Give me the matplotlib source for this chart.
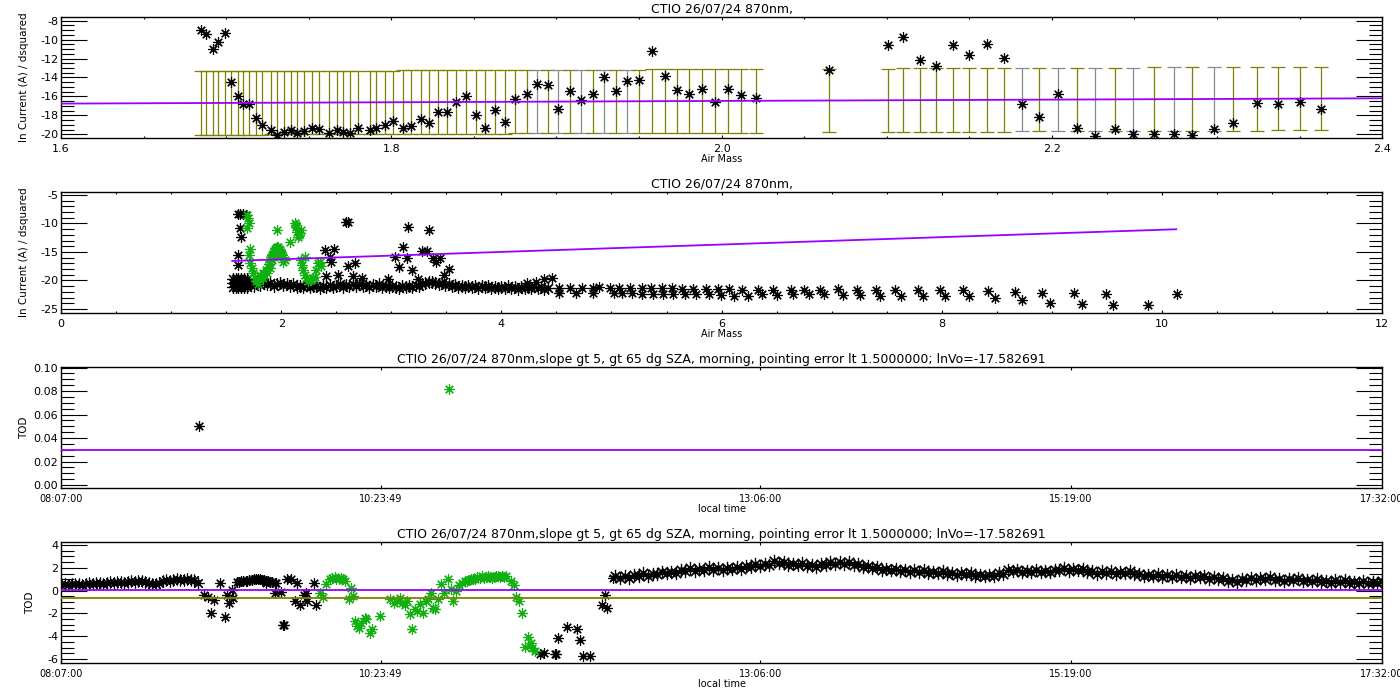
import matplotlib
matplotlib.use('Agg')
import matplotlib.pyplot as plt
from matplotlib.ticker import MultipleLocator, FixedLocator, FormatStrFormatter

plt.rcParams['font.family'] = ['DejaVu Sans']
plt.rcParams['axes.unicode_minus'] = False

#Titles and labels
title_short = "CTIO 26/07/24 870nm,"
title_long = ("CTIO 26/07/24 870nm,slope gt 5, gt 65 dg SZA, morning, "
              "pointing error lt 1.5000000; lnVo=-17.582691")
ylab_ln = "ln Current (A) / dsquared"

#PANEL 1 : morning points used for the Langley fit
p1_am = [1.685, 1.688, 1.692, 1.695, 1.699, 1.703, 1.707, 1.710, 1.714, 1.718,
         1.722, 1.727, 1.731, 1.735, 1.739, 1.743, 1.747, 1.752, 1.756, 1.762,
         1.767, 1.771, 1.775, 1.780, 1.787, 1.791, 1.796, 1.801, 1.807, 1.812,
         1.818, 1.823, 1.828, 1.834, 1.839, 1.845, 1.851, 1.857, 1.863, 1.869,
         1.875, 1.882, 1.888, 1.895, 1.901, 1.908, 1.915, 1.922, 1.929, 1.936,
         1.943, 1.950, 1.958, 1.966, 1.973, 1.980, 1.988, 1.996, 2.004, 2.012,
         2.021, 2.065, 2.101, 2.110, 2.120, 2.130, 2.140, 2.150, 2.161, 2.171,
         2.182, 2.192, 2.204, 2.215, 2.226, 2.238, 2.249, 2.262, 2.274, 2.285,
         2.298, 2.310, 2.324, 2.337, 2.350, 2.363]
p1_ln = [-9.0, -9.4, -11.0, -10.3, -9.3, -14.5, -16.0, -16.8, -16.8, -18.3,
         -19.0, -19.6, -20.1, -19.8, -19.6, -19.9, -19.7, -19.3, -19.4, -19.9,
         -19.6, -19.8, -19.9, -19.3, -19.6, -19.3, -19.0, -18.6, -19.3, -19.1,
         -18.4, -18.8, -17.7, -17.7, -16.6, -16.0, -18.0, -19.3, -17.4, -18.7,
         -16.3, -15.7, -14.7, -14.8, -17.3, -15.4, -16.4, -15.7, -14.0, -15.4,
         -14.4, -14.3, -11.2, -13.8, -15.3, -15.7, -15.2, -16.55, -15.2, -15.8,
         -16.2, -13.2, -10.6, -9.7, -12.2, -12.8, -10.6, -11.6, -10.5, -11.9,
         -16.8, -18.2, -15.7, -19.3, -20.2, -19.4, -20.0, -20.0, -20.0, -20.1,
         -19.4, -18.8, -16.7, -16.8, -16.55, -17.3]
p1_fit = [-17.88, 0.70]      # intercept, slope
p1_halfbar = 3.35
p1_grey_bars = [1.888, 1.901, 1.915, 1.929, 1.943,
                2.182, 2.204, 2.226, 2.249, 2.274, 2.298]

#PANEL 2 : whole day
p2_noon_am = [1.56, 1.56, 1.56, 1.585, 1.585, 1.585, 1.61, 1.61, 1.61,
              1.635, 1.635, 1.635, 1.66, 1.66, 1.66, 1.685, 1.685, 1.685]
p2_noon_ln = [-19.8, -20.5, -21.2, -19.8, -20.5, -21.2, -19.8, -20.5, -21.2,
              -19.8, -20.5, -21.2, -19.8, -20.5, -21.2, -19.8, -20.5, -21.2]

p2_band_am = [1.72, 1.75, 1.78, 1.81, 1.84, 1.87, 1.90, 1.93, 1.96, 1.99,
              2.02, 2.05, 2.08, 2.11, 2.14, 2.17, 2.20, 2.23, 2.26, 2.29,
              2.32, 2.35, 2.38, 2.41, 2.44, 2.47, 2.50, 2.53, 2.56, 2.59,
              2.62, 2.65, 2.68, 2.71, 2.74, 2.77, 2.80, 2.83, 2.86, 2.89,
              2.92, 2.95, 2.98, 3.01, 3.04, 3.07, 3.10, 3.13, 3.16, 3.19,
              3.22, 3.25, 3.28, 3.31, 3.34, 3.37, 3.40, 3.43, 3.46, 3.49,
              3.52, 3.55, 3.58, 3.61, 3.64, 3.67, 3.70, 3.73, 3.76, 3.79,
              3.82, 3.85, 3.88, 3.91, 3.94, 3.97, 4.00, 4.03, 4.06, 4.09,
              4.12, 4.15, 4.18, 4.21, 4.24, 4.27, 4.30, 4.33, 4.36, 4.39,
              4.42]
p2_band_ln = [-20.4, -20.9, -20.5, -20.8, -20.4, -20.7, -20.5, -20.9, -20.6, -20.4,
              -20.8, -20.6, -21.0, -20.7, -21.2, -20.9, -21.1, -20.8, -21.2, -20.9,
              -21.0, -21.3, -20.9, -21.1, -20.8, -21.2, -21.0, -20.7, -21.1, -20.8,
              -21.0, -20.6, -20.9, -20.7, -21.0, -20.8, -21.1, -20.8, -21.0, -20.7,
              -21.1, -20.9, -21.2, -20.9, -21.1, -21.3, -21.0, -21.2, -20.9, -21.1,
              -20.8, -21.0, -20.7, -20.5, -20.3, -20.2, -20.4, -20.6, -20.5, -20.8,
              -20.7, -21.0, -20.8, -21.1, -20.9, -21.2, -20.9, -21.1, -21.0, -21.3,
              -21.0, -21.2, -20.9, -21.3, -21.1, -21.4, -21.1, -21.3, -21.0, -21.4,
              -21.2, -21.5, -21.2, -21.4, -21.1, -21.3, -21.0, -21.4, -21.2, -21.5,
              -21.3]

p2_up_am = [4.23, 4.31, 4.39, 4.46,
            4.52, 4.625, 4.73, 4.83, 4.885, 4.99, 5.07, 5.17, 5.28, 5.36,
            5.46, 5.55, 5.64, 5.74, 5.86, 5.97, 6.07, 6.19, 6.33, 6.47,
            6.63, 6.75, 6.89, 7.06, 7.23, 7.40, 7.58, 7.78, 7.98, 8.19,
            8.42, 8.67, 8.91, 9.20, 9.49, 10.14]
p2_up_ln = [-20.44, -20.28, -19.72, -19.5,
            -21.39, -21.39, -21.33, -21.27, -21.21, -21.27, -21.33, -21.39, -21.39, -21.39,
            -21.39, -21.39, -21.45, -21.50, -21.50, -21.50, -21.50, -21.62, -21.62, -21.62,
            -21.62, -21.62, -21.62, -21.50, -21.62, -21.62, -21.73, -21.73, -21.73, -21.73,
            -21.85, -22.08, -22.20, -22.20, -22.31, -22.31]

p2_low_am = [4.52, 4.68, 4.83, 5.02, 5.10, 5.19, 5.28, 5.375, 5.47, 5.56,
             5.67, 5.77, 5.885, 5.995, 6.11, 6.24, 6.37, 6.50, 6.65, 6.79,
             6.93, 7.10, 7.255, 7.44, 7.63, 7.83, 8.03, 8.245, 8.48, 8.73,
             8.98, 9.27, 9.56, 9.875]
p2_low_ln = [-22.20, -22.20, -22.20, -22.20, -22.20, -22.20, -22.31, -22.31, -22.31, -22.43,
             -22.43, -22.43, -22.43, -22.49, -22.66, -22.66, -22.43, -22.49, -22.43, -22.43,
             -22.43, -22.49, -22.60, -22.66, -22.66, -22.72, -22.66, -22.77, -23.0, -23.47,
             -23.87, -24.16, -24.34, -24.28]

p2_out_am = [1.612, 1.63, 1.65, 1.68, 1.63, 1.636, 1.606, 1.612, 2.40, 2.48,
             2.44, 2.45, 2.41, 2.52, 2.59, 2.61, 2.61, 2.67, 2.65, 2.73,
             2.97, 3.03, 3.07, 3.11, 3.14, 3.15, 3.19, 3.24, 3.28, 3.32,
             3.34, 3.38, 3.41, 3.44, 3.48, 3.52]
p2_out_ln = [-8.33, -8.33, -8.33, -8.5, -10.85, -12.4, -15.5, -17.3, -14.65, -14.5,
             -15.8, -16.7, -19.2, -19.0, -9.7, -9.7, -17.5, -17.0, -19.3, -19.5,
             -19.8, -15.8, -17.6, -14.2, -16.1, -10.55, -18.2, -19.8, -14.9, -14.9,
             -11.1, -16.1, -16.7, -16.1, -19.0, -18.0]

p2_green_am = [1.685, 1.697, 1.703, 1.691, 1.712, 1.709, 1.721, 1.733, 1.742, 1.758,
               1.773, 1.788, 1.794, 1.803, 1.818, 1.833, 1.833, 1.848, 1.864, 1.873,
               1.879, 1.888, 1.894, 1.897, 1.903, 1.909, 1.915, 1.918, 1.924, 1.933,
               1.933, 1.939, 1.948, 1.955, 1.958, 1.964, 1.970, 1.979, 1.985, 1.988,
               1.994, 2.000, 2.009, 2.015, 2.015, 2.030, 1.964, 2.076, 2.121, 2.130,
               2.136, 2.145, 2.152, 2.158, 2.167, 2.176, 2.182, 2.191, 2.197, 2.212,
               2.218, 2.227, 2.242, 2.258, 2.273, 2.288, 2.303, 2.318, 2.333, 2.348,
               2.364]
p2_green_ln = [-8.5, -9.09, -9.97, -10.85, -14.53, -15.5, -16.99, -17.87, -18.63, -19.62,
               -20.03, -20.6, -19.8, -19.04, -19.44, -18.74, -19.62, -19.04, -18.16, -18.63,
               -17.69, -17.1, -16.7, -17.87, -16.17, -15.82, -16.4, -15.47, -15.35, -15.0,
               -15.82, -14.77, -14.53, -14.36, -15.12, -14.18, -14.18, -14.42, -14.65, -15.53,
               -15.0, -15.35, -15.58, -15.82, -16.7, -16.4, -11.14, -13.19, -9.85, -10.26,
               -10.56, -11.43, -12.43, -12.02, -11.73, -11.14, -16.4, -17.28, -18.16, -15.82,
               -19.04, -19.62, -20.03, -19.91, -19.91, -19.62, -19.33, -18.16, -16.99, -16.7,
               -17.46]

lnvo = -17.582691
p2_fit_am = [1.555, 10.13]
p2_fit_slope = 0.648

#PANELS 3-4 : time in minutes after 08:00 local time
time_ticks = [7, 143.8167, 306, 439, 572]
time_labels = ['08:07:00', '10:23:49', '13:06:00', '15:19:00', '17:32:00']

p3_black_t = [65.9]
p3_black_tod = [0.050]
p3_green_t = [172.8]
p3_green_tod = [0.082]
tod_mean = 0.030
tod_low = -0.65

p4_morn_t = [7, 8.5, 10, 11.5, 13, 14.5, 16, 17.5, 19, 20.5,
             22, 23.5, 25, 26.5, 28, 29.5, 31, 32.5, 34, 35.5,
             37, 38.5, 40, 41.5, 43, 44.5, 46, 47.5, 49, 50.5,
             52, 53.5, 55, 56.5, 58, 59.5, 61, 62.5, 64, 65.5]
p4_morn_tod = [0.52, 0.60, 0.50, 0.58, 0.55, 0.62, 0.52, 0.60, 0.66, 0.58,
               0.64, 0.70, 0.62, 0.68, 0.74, 0.66, 0.72, 0.78, 0.70, 0.76,
               0.82, 0.75, 0.80, 0.86, 0.78, 0.70, 0.60, 0.55, 0.68, 0.86,
               0.95, 0.88, 0.92, 0.98, 0.90, 0.96, 1.02, 0.94, 0.90, 0.70]

p4_black_t = [68.1, 69.9, 72.6, 71.3, 74.9, 77.0, 77.9, 78.8, 80.5, 80.2,
              82.3, 83.2, 84.1, 85.0, 85.9, 86.7, 87.6, 88.5, 89.4, 90.3,
              91.2, 92.1, 92.9, 93.8, 94.7, 95.6, 96.5, 97.4, 98.3, 94.7,
              98.3, 100.9, 99.1, 101.8, 102.2, 103.6, 105.3, 108.0, 107.1, 109.2,
              110.7, 111.9, 112.4, 115.1, 116.0,
              211.7, 213.4, 218.4, 218.9, 219.6,
              223.2, 227.6, 229.0, 230.3, 233.3, 238.2, 239.7, 240.4, 243.2]
p4_black_tod = [-0.41, -0.53, -0.82, -1.94, 0.71, -2.29, -0.41, -1.12, -0.68, 0.06,
                0.72, 0.78, 0.80, 0.85, 0.88, 0.86, 0.92, 0.95, 0.98, 1.0,
                1.02, 0.98, 0.95, 0.92, 0.88, 0.82, 0.78, 0.72, 0.68, 0.71,
                -0.24, -0.12, 0.65, -3.06, -3.06, 1.0, 1.0, 0.65, -0.91, -1.29,
                -0.41, -0.18, -0.91, 0.71, -1.29,
                -5.53, -5.47, -5.53, -5.53, -4.15,
                -3.18, -3.41, -4.35, -5.71, -5.71, -1.29, -0.41, -1.5, 1.12]

p4_green_t = [117.8, 119.2, 120.4, 122.2, 123.1, 124.0, 124.8, 125.7, 126.6, 127.5,
              128.4, 130.2, 131.0, 131.9, 132.8, 133.7, 134.6, 135.5, 136.9, 137.6,
              139.0, 139.9, 143.4, 147.9, 149.3, 150.5, 151.8, 152.8, 154.1, 155.0,
              156.4, 157.1, 158.2, 159.4, 160.6, 161.7, 162.9, 163.8, 165.2, 165.9,
              167.0, 168.3, 169.5, 170.9, 172.3, 173.6, 174.5, 175.9, 177.1, 178.4,
              179.8, 180.7, 181.5, 182.4, 183.3, 184.2, 185.1, 186.0, 186.9, 187.8,
              188.6, 189.5, 190.4, 191.3, 192.2, 193.1, 194.0, 194.8, 195.7, 196.6,
              197.5, 199.3, 200.7, 201.4, 202.8, 204.2, 205.5, 206.7, 207.8, 208.5,
              209.9]
p4_green_tod = [-0.18, -0.53, 0.56, 1.0, 1.1, 1.15, 1.05, 1.0, 1.08, 1.0,
                0.85, -0.76, 0.26, -0.47, -2.68, -3.12, -3.26, -2.82, -2.38, -2.53,
                -3.71, -3.41, -2.24, -0.76, -1.06, -0.91, -0.62, -1.12, -1.29, -0.91,
                -2.09, -3.41, -1.65, -1.79, -1.21, -1.94, -0.91, -0.71, -0.24, -1.5,
                -1.65, -0.76, 0.56, -0.24, 1.0, 0.12, -0.91, -0.03, 0.47, 0.71,
                0.85, 0.80, 0.94, 0.98, 1.06, 1.02, 1.15, 1.10, 1.24, 1.12,
                1.15, 1.25, 1.21, 1.12, 1.15, 1.28, 1.24, 1.15, 1.29, 1.20,
                1.24, 0.85, 0.47, -0.53, -0.91, -1.94, -4.94, -4.06, -4.59, -5.03,
                -5.32]

p4_aft_t = [244, 246, 248, 250, 252, 254, 256, 258, 260, 262,
            264, 266, 268, 270, 272, 274, 276, 278, 280, 282,
            284, 286, 288, 290, 292, 294, 296, 298, 300, 302,
            304, 306, 308, 310, 312, 314, 316, 318, 320, 322,
            324, 326, 328, 330, 332, 334, 336, 338, 340, 342,
            344, 346, 348, 350, 352, 354, 356, 358, 360, 362,
            364, 366, 368, 370, 372, 374, 376, 378, 380, 382,
            384, 386, 388, 390, 392, 394, 396, 398, 400, 402,
            404, 406, 408, 410, 412, 414, 416, 418, 420, 422,
            424, 426, 428, 430, 432, 434, 436, 438, 440, 442,
            444, 446, 448, 450, 452, 454, 456, 458, 460, 462,
            464, 466, 468, 470, 472, 474, 476, 478, 480, 482,
            484, 486, 488, 490, 492, 494, 496, 498, 500, 502,
            504, 506, 508, 510, 512, 514, 516, 518, 520, 522,
            524, 526, 528, 530, 532, 534, 536, 538, 540, 542,
            544, 546, 548, 550, 552, 554, 556, 558, 560, 562,
            564, 566, 568, 570, 572]
p4_aft_tod = [1.27, 1.11, 1.25, 1.13, 1.39, 1.31, 1.51, 1.30, 1.49, 1.43,
              1.66, 1.51, 1.67, 1.56, 1.83, 1.75, 1.94, 1.73, 1.91, 1.83,
              2.04, 1.85, 1.95, 1.78, 1.98, 1.86, 2.09, 1.91, 2.13, 2.09,
              2.33, 2.20, 2.37, 2.28, 2.56, 2.41, 2.54, 2.26, 2.37, 2.23,
              2.38, 2.15, 2.23, 2.08, 2.35, 2.29, 2.51, 2.32, 2.52, 2.37,
              2.50, 2.26, 2.30, 2.05, 2.17, 1.97, 2.06, 1.79, 1.91, 1.77,
              1.92, 1.69, 1.77, 1.59, 1.78, 1.65, 1.79, 1.52, 1.65, 1.52,
              1.68, 1.46, 1.55, 1.36, 1.56, 1.43, 1.56, 1.29, 1.41, 1.26,
              1.41, 1.32, 1.55, 1.50, 1.83, 1.71, 1.85, 1.60, 1.73, 1.61,
              1.78, 1.59, 1.73, 1.60, 1.85, 1.77, 1.96, 1.75, 1.93, 1.77,
              1.89, 1.64, 1.70, 1.49, 1.68, 1.57, 1.73, 1.49, 1.64, 1.53,
              1.71, 1.44, 1.49, 1.26, 1.41, 1.27, 1.43, 1.19, 1.34, 1.23,
              1.41, 1.21, 1.30, 1.12, 1.32, 1.18, 1.32, 1.06, 1.17, 1.01,
              1.13, 0.88, 0.93, 0.72, 0.98, 0.91, 1.11, 0.90, 1.09, 0.99,
              1.15, 0.93, 1.02, 0.85, 1.05, 0.92, 1.07, 0.82, 0.95, 0.83,
              1.00, 0.78, 0.87, 0.69, 0.89, 0.76, 0.90, 0.63, 0.76, 0.66,
              0.85, 0.66, 0.78, 0.63, 0.85]

#Colours
c_green = '#10b010'
c_mag = '#9a00ff'
c_olive = '#808000'
c_grey = '#8a8a8a'
ast = (8, 2, 0)   # IDL psym=2 style asterisk (plus and cross)


def idl_style(ax):
    # long inward y ticks on both sides, tiny x ticks like IDL
    ax.tick_params(axis='y', which='major', direction='in', length=19, width=0.8,
                   left=True, right=True, labelsize=8, pad=2)
    ax.tick_params(axis='y', which='minor', direction='in', length=9.5, width=0.8,
                   left=True, right=True)
    ax.tick_params(axis='x', which='major', direction='in', length=2.5, width=0.8,
                   top=True, bottom=True, labelsize=8, pad=4)
    ax.tick_params(axis='x', which='minor', direction='in', length=1.2, width=0.8,
                   top=True, bottom=True)
    for s in ax.spines.values():
        s.set_linewidth(1.0)


def stars(ax, x, y, color, ms=7.5):
    ax.plot(x, y, ls='none', marker=ast, ms=ms, mec=color, mfc=color, mew=0.85,
            zorder=3)


fig = plt.figure(figsize=(14, 7), dpi=100)
L, W, H = 0.0436, 0.9436, 0.1729
ax1 = fig.add_axes([L, 0.8029, W, H])
ax2 = fig.add_axes([L, 0.5529, W, H])
ax3 = fig.add_axes([L, 0.3029, W, H])
ax4 = fig.add_axes([L, 0.0529, W, H])

# Panel 1
centres = [p1_fit[0] + p1_fit[1] * a for a in p1_am]
bar_cols = [c_grey if a in p1_grey_bars else c_olive for a in p1_am]
for a, c, col in zip(p1_am, centres, bar_cols):
    ax1.errorbar([a], [c], yerr=p1_halfbar, fmt='none', ecolor=col, elinewidth=0.9,
                 capsize=4.7, capthick=0.9, zorder=2)
stars(ax1, p1_am, p1_ln, 'black')
ax1.plot([1.555, 2.45], [p1_fit[0] + p1_fit[1] * 1.555, p1_fit[0] + p1_fit[1] * 2.45],
         color=c_mag, lw=1.3, zorder=4)
ax1.set_xlim(1.6, 2.4)
ax1.set_ylim(-20.39, -7.61)
ax1.xaxis.set_major_locator(MultipleLocator(0.2))
ax1.xaxis.set_minor_locator(MultipleLocator(0.05))
ax1.xaxis.set_major_formatter(FormatStrFormatter('%.1f'))
ax1.yaxis.set_major_locator(MultipleLocator(2))
ax1.yaxis.set_minor_locator(MultipleLocator(0.5))
ax1.set_title(title_short, fontsize=9, pad=3)
ax1.set_xlabel('Air Mass', fontsize=7)
ax1.set_ylabel(ylab_ln, fontsize=7.5)

# Panel 2 (dense samples drawn a bit larger so they merge into a band)
stars(ax2, p2_noon_am, p2_noon_ln, 'black', ms=9)
stars(ax2, p2_band_am, p2_band_ln, 'black', ms=9)
stars(ax2, p2_up_am, p2_up_ln, 'black')
stars(ax2, p2_low_am, p2_low_ln, 'black')
stars(ax2, p2_out_am, p2_out_ln, 'black')
stars(ax2, p2_green_am, p2_green_ln, c_green)
ax2.plot(p2_fit_am, [lnvo + p2_fit_slope * a for a in p2_fit_am], color=c_mag,
         lw=1.3, zorder=4)
ax2.set_xlim(0, 12)
ax2.set_ylim(-25.7, -4.47)
ax2.xaxis.set_major_locator(MultipleLocator(2))
ax2.xaxis.set_minor_locator(MultipleLocator(0.5))
ax2.yaxis.set_major_locator(MultipleLocator(5))
ax2.yaxis.set_minor_locator(MultipleLocator(1))
ax2.set_title(title_short, fontsize=9, pad=3)
ax2.set_xlabel('Air Mass', fontsize=7)
ax2.set_ylabel(ylab_ln, fontsize=7.5)

# Panel 3
stars(ax3, p3_black_t, p3_black_tod, 'black')
stars(ax3, p3_green_t, p3_green_tod, c_green)
ax3.axhline(tod_mean, color=c_mag, lw=1.3, zorder=4)
ax3.set_ylim(-0.0025, 0.1005)
ax3.yaxis.set_major_locator(MultipleLocator(0.02))
ax3.yaxis.set_minor_locator(MultipleLocator(0.005))
ax3.yaxis.set_major_formatter(FormatStrFormatter('%.2f'))
ax3.set_title(title_long, fontsize=9, pad=3)
ax3.set_ylabel('TOD', fontsize=7.5)

# Panel 4
stars(ax4, p4_morn_t, p4_morn_tod, 'black', ms=8.5)
stars(ax4, p4_black_t, p4_black_tod, 'black')
stars(ax4, p4_aft_t, p4_aft_tod, 'black', ms=9.5)
stars(ax4, p4_green_t, p4_green_tod, c_green)
ax4.axhline(tod_mean, color=c_mag, lw=1.3, zorder=4)
ax4.axhline(tod_low, color=c_olive, lw=1.3, zorder=4)
ax4.set_ylim(-6.35, 4.27)
ax4.yaxis.set_major_locator(MultipleLocator(2))
ax4.yaxis.set_minor_locator(MultipleLocator(0.5))
ax4.set_title(title_long, fontsize=9, pad=3)
ax4.set_ylabel('TOD', fontsize=7.5)

for ax in (ax3, ax4):
    ax.set_xlim(7, 572)
    ax.xaxis.set_major_locator(FixedLocator(time_ticks))
    ax.set_xticklabels(time_labels)
    ax.set_xlabel('local time', fontsize=7)

for ax in (ax1, ax2, ax3, ax4):
    idl_style(ax)
    ax.xaxis.set_label_coords(0.5, -0.13)
for ax in (ax3, ax4):
    ax.tick_params(axis='x', labelsize=7)
for ax in (ax1, ax2, ax3):
    ax.yaxis.set_label_coords(-0.024, 0.5)
ax4.yaxis.set_label_coords(-0.020, 0.5)

plt.savefig('out.png', dpi=100, facecolor='white')
